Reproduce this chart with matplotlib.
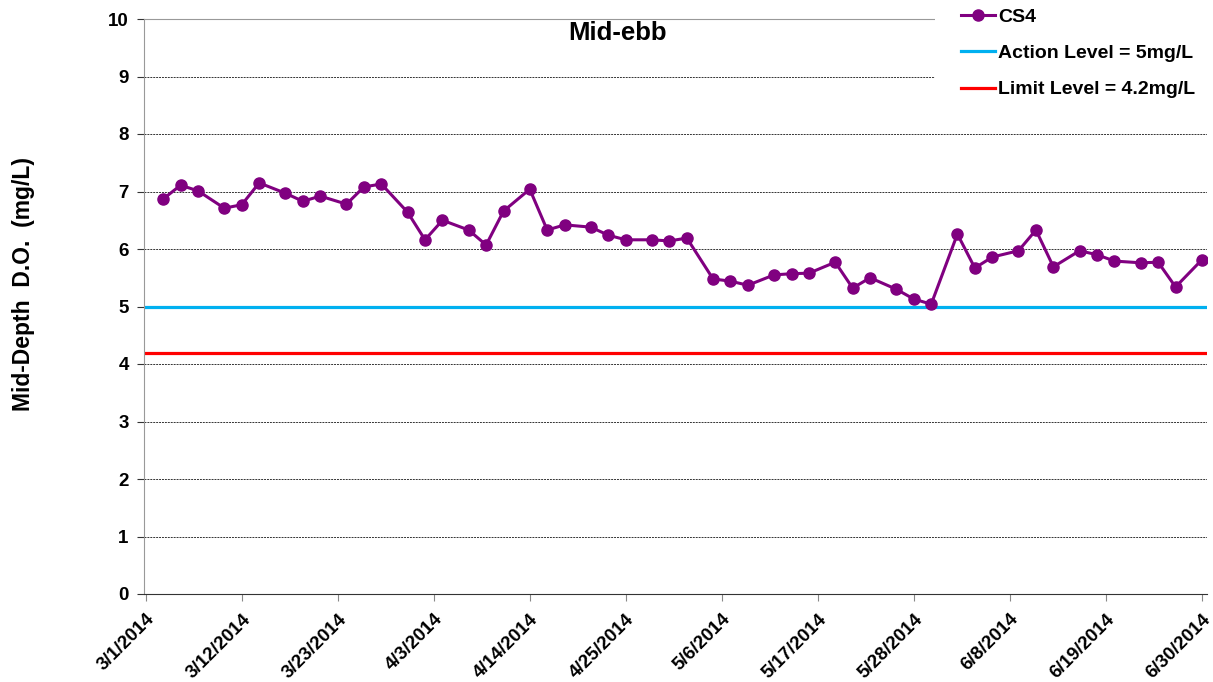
import matplotlib
matplotlib.use("Agg")
import matplotlib.pyplot as plt
import matplotlib.dates as mdates
from matplotlib.patches import Rectangle
import pandas as pd

plt.rcParams['font.family'] = ['Liberation Sans', 'DejaVu Sans']
plt.rcParams['font.weight'] = 'bold'

dates = ["2014-03-03", "2014-03-05", "2014-03-07", "2014-03-10", "2014-03-12", "2014-03-14",
         "2014-03-17", "2014-03-19", "2014-03-21", "2014-03-24", "2014-03-26", "2014-03-28",
         "2014-03-31",
         "2014-04-02", "2014-04-04", "2014-04-07", "2014-04-09", "2014-04-11", "2014-04-14",
         "2014-04-16", "2014-04-18", "2014-04-21", "2014-04-23", "2014-04-25", "2014-04-28",
         "2014-04-30",
         "2014-05-02", "2014-05-05", "2014-05-07", "2014-05-09", "2014-05-12", "2014-05-14",
         "2014-05-16", "2014-05-19", "2014-05-21", "2014-05-23", "2014-05-26", "2014-05-28",
         "2014-05-30",
         "2014-06-02", "2014-06-04", "2014-06-06", "2014-06-09", "2014-06-11", "2014-06-13",
         "2014-06-16", "2014-06-18", "2014-06-20", "2014-06-23", "2014-06-25", "2014-06-27",
         "2014-06-30"]
cs4 = [6.87, 7.11, 7.01, 6.71, 6.77, 7.15, 6.97, 6.83, 6.92, 6.78, 7.08, 7.13, 6.64,
       6.16, 6.50, 6.33, 6.07, 6.66, 7.04, 6.33, 6.42, 6.38, 6.24, 6.16, 6.16, 6.14,
       6.19, 5.48, 5.44, 5.37, 5.55, 5.57, 5.58, 5.77, 5.32, 5.50, 5.30, 5.13, 5.04,
       6.26, 5.67, 5.86, 5.97, 6.33, 5.69, 5.97, 5.90, 5.79, 5.76, 5.77, 5.34, 5.81]
action_level = 5.0
limit_level = 4.2
tick_dates = ["2014-03-01", "2014-03-12", "2014-03-23", "2014-04-03", "2014-04-14", "2014-04-25",
              "2014-05-06", "2014-05-17", "2014-05-28", "2014-06-08", "2014-06-19", "2014-06-30"]
tick_labels = ["3/1/2014", "3/12/2014", "3/23/2014", "4/3/2014", "4/14/2014", "4/25/2014",
               "5/6/2014", "5/17/2014", "5/28/2014", "6/8/2014", "6/19/2014", "6/30/2014"]

x = pd.to_datetime(dates)
xt = pd.to_datetime(tick_dates)

W, H = 1213, 682
fig = plt.figure(figsize=(W/100, H/100), dpi=100)
ax = fig.add_axes([144/W, 1-594/H, (1207-144)/W, (594-19)/H])

x0 = mdates.date2num(pd.Timestamp("2014-03-01"))
ax.set_xlim(x0 - 0.2, x0 + 121.6)
ax.set_ylim(0, 10)

ax.axhline(action_level, color='#00B0F0', lw=2.3, label='Action Level = 5mg/L', zorder=2)
ax.axhline(limit_level, color='#FF0000', lw=2.3, label='Limit Level = 4.2mg/L', zorder=2)
ax.plot(x, cs4, color='#800080', lw=2.2, marker='o', ms=8, label='CS4', zorder=3)

ax.set_yticks(range(0, 11))
ax.yaxis.grid(True, color='#333333', lw=0.7, ls=(0, (2, 1)))
ax.set_axisbelow(True)
ax.set_xticks(mdates.date2num(xt))
ax.set_xticklabels(tick_labels, rotation=45, ha='right', rotation_mode='anchor')

for lab in ax.get_xticklabels() + ax.get_yticklabels():
    lab.set_fontsize(13.5)
    lab.set_fontweight('bold')

ax.spines['right'].set_visible(False)
ax.spines['top'].set_color('#999999')
ax.spines['left'].set_color('#999999')
ax.spines['bottom'].set_color('#333333')
ax.tick_params(axis='x', length=5, color='#888888', pad=7)
ax.tick_params(axis='y', length=5, color='#333333', pad=6)

ax.set_ylabel('Mid-Depth  D.O.  (mg/L)', fontsize=16.5, fontweight='bold')
ax.yaxis.set_label_coords(-0.103, 0.539)
ax.text(0.445, 0.997, 'Mid-ebb', transform=ax.transAxes, ha='center', va='top',
        fontsize=18.5, fontweight='bold')

# white legend area covering the grid at the top right
ax.add_patch(Rectangle((935/W, 1-105/H), (W-935)/W, 105/H, transform=fig.transFigure,
                       facecolor='white', edgecolor='none', clip_on=False, zorder=8))

handles, labels = ax.get_legend_handles_labels()
order = [2, 0, 1]
leg = ax.legend([handles[i] for i in order], [labels[i] for i in order],
                loc='upper left', bbox_to_anchor=(945/W, 1 + 7/H), bbox_transform=fig.transFigure,
                frameon=False, prop={'size': 14, 'weight': 'bold'}, handlelength=1.75,
                handletextpad=0.2, labelspacing=0.95, borderpad=0.3)
leg.set_zorder(10)

fig.savefig('out.png', dpi=100)
